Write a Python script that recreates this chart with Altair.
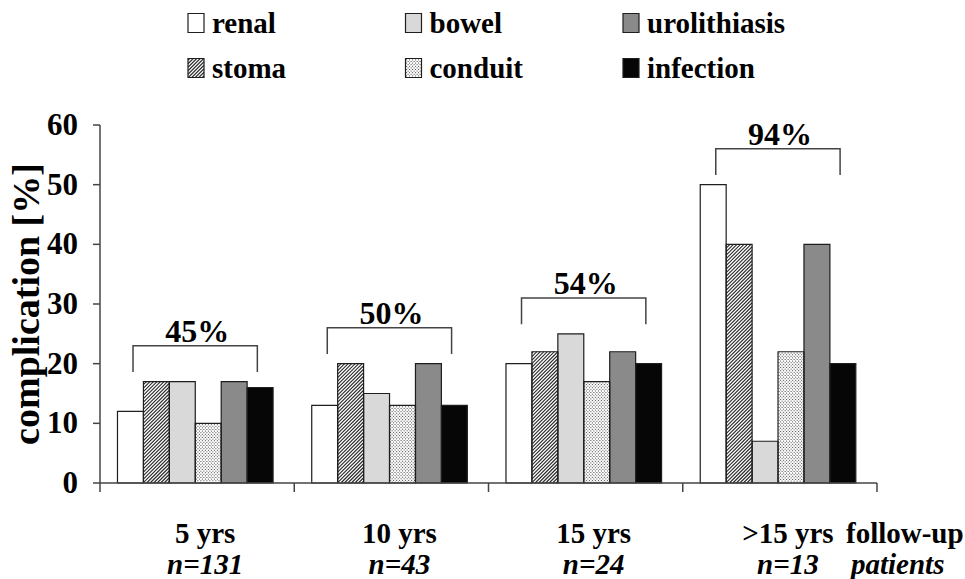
import altair as alt
import pandas as pd
import numpy as np

# ---------------- values ----------------
groups = ["5 yrs", "10 yrs", "15 yrs", ">15 yrs"]
patients = ["n=131", "n=43", "n=24", "n=13"]
totals = ["45%", "50%", "54%", "94%"]
bar_order = ["renal", "stoma", "bowel", "conduit", "urolithiasis", "infection"]
legend_order = ["renal", "bowel", "urolithiasis", "stoma", "conduit", "infection"]
renal = [12, 13, 20, 50]
stoma = [17, 20, 22, 40]
bowel = [17, 15, 25, 7]
conduit = [10, 13, 17, 22]
urolithiasis = [17, 20, 22, 40]
infection = [16, 13, 20, 20]
y_ticks = [0, 10, 20, 30, 40, 50, 60]
y_title = "complication [%]"
end_labels = ["follow-up", "patients"]

series = {"renal": renal, "stoma": stoma, "bowel": bowel, "conduit": conduit,
          "urolithiasis": urolithiasis, "infection": infection}

# ---------------- layout / style ----------------
W, H = 777, 358
Y_MAX = 60
NG = len(groups)
KX = W / NG          # px per x unit
KY = H / Y_MAX       # px per y unit
PAD = 0.09           # left gap inside each group (x units)
BW = 0.1335          # bar width (x units)
FONT = "Liberation Serif"
INK = "#1e1e1e"
AXIS = "#444444"
fills = {"renal": "#ffffff", "stoma": "#ffffff", "bowel": "#d9d9d9",
         "conduit": "#ffffff", "urolithiasis": "#8a8a8a", "infection": "#060606"}
fill_scale = alt.Scale(domain=legend_order, range=[fills[t] for t in legend_order])

x_scale = alt.Scale(domain=[0, NG], nice=False, zero=False)
y_scale = alt.Scale(domain=[0, Y_MAX], nice=False)


def to_x(px):
    return px / KX


def to_y(py):
    return (H - py) / KY


def X(f):
    return alt.X(f, scale=x_scale, axis=None)


def Y(f):
    return alt.Y(f, scale=y_scale, axis=None)


# ---------------- tables ----------------
rows = []
for gi, g in enumerate(groups):
    for ti, t in enumerate(bar_order):
        x0 = gi + PAD + ti * BW
        rows.append({"group": g, "gi": gi, "type": t, "ti": ti, "value": series[t][gi],
                     "x0": x0, "x1": x0 + BW, "zero": 0})
bars_df = pd.DataFrame(rows)

S_HATCH = 3.5
bw_px = BW * KX


def hatch_lines(left_px, bottom_px, w_px, h_px):
    """'/' hatch inside a rectangle given in pixel coords (y downward)."""
    out = []
    for c in np.arange(-w_px + S_HATCH / 2, h_px, S_HATCH):
        xs = max(0.0, -c)
        xe = min(w_px, h_px - c)
        if xe > xs + 0.2:
            out.append({"hx": to_x(left_px + xs), "hy": to_y(bottom_px - (xs + c)),
                        "hx2": to_x(left_px + xe), "hy2": to_y(bottom_px - (xe + c))})
    return out


def dot_rows(left_px, top_px, w_px, h_px):
    out = []
    for k, yp in enumerate(np.arange(top_px + 1.4, top_px + h_px - 0.8, 1.6)):
        out.append({"dx0": to_x(left_px + 0.6), "dx1": to_x(left_px + w_px),
                    "dy": to_y(yp), "phase": k % 2})
    return out


hatch = []
dots = []
si = bar_order.index("stoma")
ci = bar_order.index("conduit")
for gi in range(NG):
    left = (gi + PAD + si * BW) * KX
    hatch += hatch_lines(left, H, bw_px, stoma[gi] * KY)
    left = (gi + PAD + ci * BW) * KX
    dots += dot_rows(left, H - conduit[gi] * KY, bw_px, conduit[gi] * KY)

# legend (layout in pixels relative to plot area, converted to data units)
LEG_X0, LEG_DX, LEG_Y0, LEG_DY = 96, 217.5, -102, 45
SW_W, SW_H = 16, 19
leg = []
for k, t in enumerate(legend_order):
    col, row = k % 3, k // 3
    cx = LEG_X0 + col * LEG_DX
    cy = LEG_Y0 + row * LEG_DY
    leg.append({"type": t, "lx0": to_x(cx - SW_W / 2), "lx1": to_x(cx + SW_W / 2),
                "ly0": to_y(cy - SW_H / 2), "ly1": to_y(cy + SW_H / 2),
                "tx": to_x(cx + SW_W / 2 + 8), "ty": to_y(cy + 10)})
    if t == "stoma":
        hatch += hatch_lines(cx - SW_W / 2, cy + SW_H / 2, SW_W, SW_H)
    if t == "conduit":
        dots += dot_rows(cx - SW_W / 2, cy - SW_H / 2, SW_W, SW_H)
leg_df = pd.DataFrame(leg)
hatch_df = pd.DataFrame(hatch)
dots_df = pd.DataFrame(dots)

# brackets
BR_L, BR_R = 0.17, 0.81
BR_TOP, BR_LEG = 6.0, 1.6
gmax = [max(series[t][gi] for t in bar_order) for gi in range(NG)]
br = []
for gi in range(NG):
    m = gmax[gi]
    pts = [(gi + BR_L, m + BR_LEG), (gi + BR_L, m + BR_TOP),
           (gi + BR_R, m + BR_TOP), (gi + BR_R, m + BR_LEG)]
    for k, (bx, by) in enumerate(pts):
        br.append({"gi": gi, "k": k, "bx": bx, "by": by})
br_df = pd.DataFrame(br)
pct_df = pd.DataFrame({"tx": [gi + (BR_L + BR_R) / 2 for gi in range(NG)],
                       "ty": [m + BR_TOP for m in gmax], "label": totals})

cat_df = pd.DataFrame({"cx": [gi + 0.5 for gi in range(NG)], "group": groups, "n": patients})
end_df = pd.DataFrame({"ex": [NG], "l1": [end_labels[0]], "l2": [end_labels[1]]})

# axes drawn from the tick lists
Y_TICK, X_TICK = 7, 9
yt_df = pd.DataFrame({"v": y_ticks, "a": [to_x(-Y_TICK)] * len(y_ticks), "b": [0] * len(y_ticks),
                      "lab": [str(v) for v in y_ticks]})
xt_df = pd.DataFrame({"g": list(range(NG + 1)), "a": [0] * (NG + 1),
                      "b": [to_y(H + X_TICK)] * (NG + 1)})
dom_df = pd.DataFrame({"x": [0, 0], "y": [0, 0], "x2": [0, NG], "y2": [Y_MAX, 0]})
title_df = pd.DataFrame({"x": [to_x(-61)], "y": [Y_MAX / 2], "t": [y_title]})

# ---------------- layers ----------------
bars = alt.Chart(bars_df).mark_rect().encode(
    x=X("x0:Q"), x2="x1", y=Y("value:Q"), y2="zero",
    fill=alt.Fill("type:N", scale=fill_scale, legend=None),
)
leg_sw = alt.Chart(leg_df).mark_rect().encode(
    x=X("lx0:Q"), x2="lx1", y=Y("ly0:Q"), y2="ly1",
    fill=alt.Fill("type:N", scale=fill_scale, legend=None),
)
hatch_layer = alt.Chart(hatch_df).mark_rule(color="#2a2a2a", strokeWidth=1.1).encode(
    x=X("hx:Q"), x2="hx2", y=Y("hy:Q"), y2="hy2",
)
dot_layers = []
for ph, off in [(0, 0.0), (1, 1.5)]:
    dot_layers.append(
        alt.Chart(dots_df).transform_filter(f"datum.phase == {ph}")
        .mark_rule(color="#444444", strokeWidth=1, strokeDash=[1, 2], strokeDashOffset=off)
        .encode(x=X("dx0:Q"), x2="dx1", y=Y("dy:Q"))
    )
outline = alt.Chart(bars_df).mark_rect(fillOpacity=0, stroke=INK, strokeWidth=1.2).encode(
    x=X("x0:Q"), x2="x1", y=Y("value:Q"), y2="zero",
)
leg_out = alt.Chart(leg_df).mark_rect(fillOpacity=0, stroke=INK, strokeWidth=1.2).encode(
    x=X("lx0:Q"), x2="lx1", y=Y("ly0:Q"), y2="ly1",
)
leg_txt = alt.Chart(leg_df).mark_text(font=FONT, fontSize=29, fontWeight="bold", color="black",
                                      align="left", baseline="alphabetic").encode(
    x=X("tx:Q"), y=Y("ty:Q"), text="type:N",
)
brackets = alt.Chart(br_df).mark_line(color=AXIS, strokeWidth=1.5).encode(
    x=X("bx:Q"), y=Y("by:Q"), detail="gi:N", order="k:Q",
)
pct = alt.Chart(pct_df).mark_text(font=FONT, fontSize=32, fontWeight="bold", color="black",
                                  baseline="alphabetic", dy=-4, dx=2).encode(
    x=X("tx:Q"), y=Y("ty:Q"), text="label:N",
)
cat1 = alt.Chart(cat_df).mark_text(font=FONT, fontSize=29, fontWeight="bold", color="black",
                                   baseline="alphabetic", dx=8).encode(
    x=X("cx:Q"), y=alt.value(H + 60), text="group:N")
cat2 = alt.Chart(cat_df).mark_text(font=FONT, fontSize=29, fontWeight="bold", fontStyle="italic",
                                   color="black", baseline="alphabetic", dx=8).encode(
    x=X("cx:Q"), y=alt.value(H + 91), text="n:N")
end1 = alt.Chart(end_df).mark_text(font=FONT, fontSize=29, fontWeight="bold", color="black",
                                   baseline="alphabetic", align="left", dx=-31).encode(
    x=X("ex:Q"), y=alt.value(H + 60), text="l1:N")
end2 = alt.Chart(end_df).mark_text(font=FONT, fontSize=29, fontWeight="bold", fontStyle="italic",
                                   color="black", baseline="alphabetic", align="left", dx=-26).encode(
    x=X("ex:Q"), y=alt.value(H + 91), text="l2:N")

# axes
dom = alt.Chart(dom_df).mark_rule(color=AXIS, strokeWidth=1.5).encode(
    x=X("x:Q"), x2="x2", y=Y("y:Q"), y2="y2")
yticks = alt.Chart(yt_df).mark_rule(color=AXIS, strokeWidth=1.5).encode(
    x=X("a:Q"), x2="b", y=Y("v:Q"))
ylabels = alt.Chart(yt_df).mark_text(font=FONT, fontSize=31, fontWeight="bold", color="black",
                                     align="right", baseline="middle", dx=-(Y_TICK + 15), dy=1).encode(
    x=X("b:Q"), y=Y("v:Q"), text="lab:N")
xticks = alt.Chart(xt_df).mark_rule(color=AXIS, strokeWidth=1.5).encode(
    x=X("g:Q"), y=Y("a:Q"), y2="b")
ytitle = alt.Chart(title_df).mark_text(font=FONT, fontSize=38, fontWeight="bold", color="black",
                                       angle=270, align="center", baseline="alphabetic").encode(
    x=X("x:Q"), y=Y("y:Q"), text="t:N")

chart = alt.layer(
    bars, leg_sw, hatch_layer, *dot_layers, outline, leg_out, leg_txt,
    brackets, pct, cat1, cat2, end1, end2,
    dom, yticks, xticks, ylabels, ytitle,
).properties(
    width=W, height=H,
    padding={"left": 100, "top": 125, "right": 88, "bottom": 96},
    autosize=alt.AutoSizeParams(type="none"),
    background="white",
).configure_view(stroke=None)

chart.save("out.html", embed_options={"renderer": "svg", "actions": False})
